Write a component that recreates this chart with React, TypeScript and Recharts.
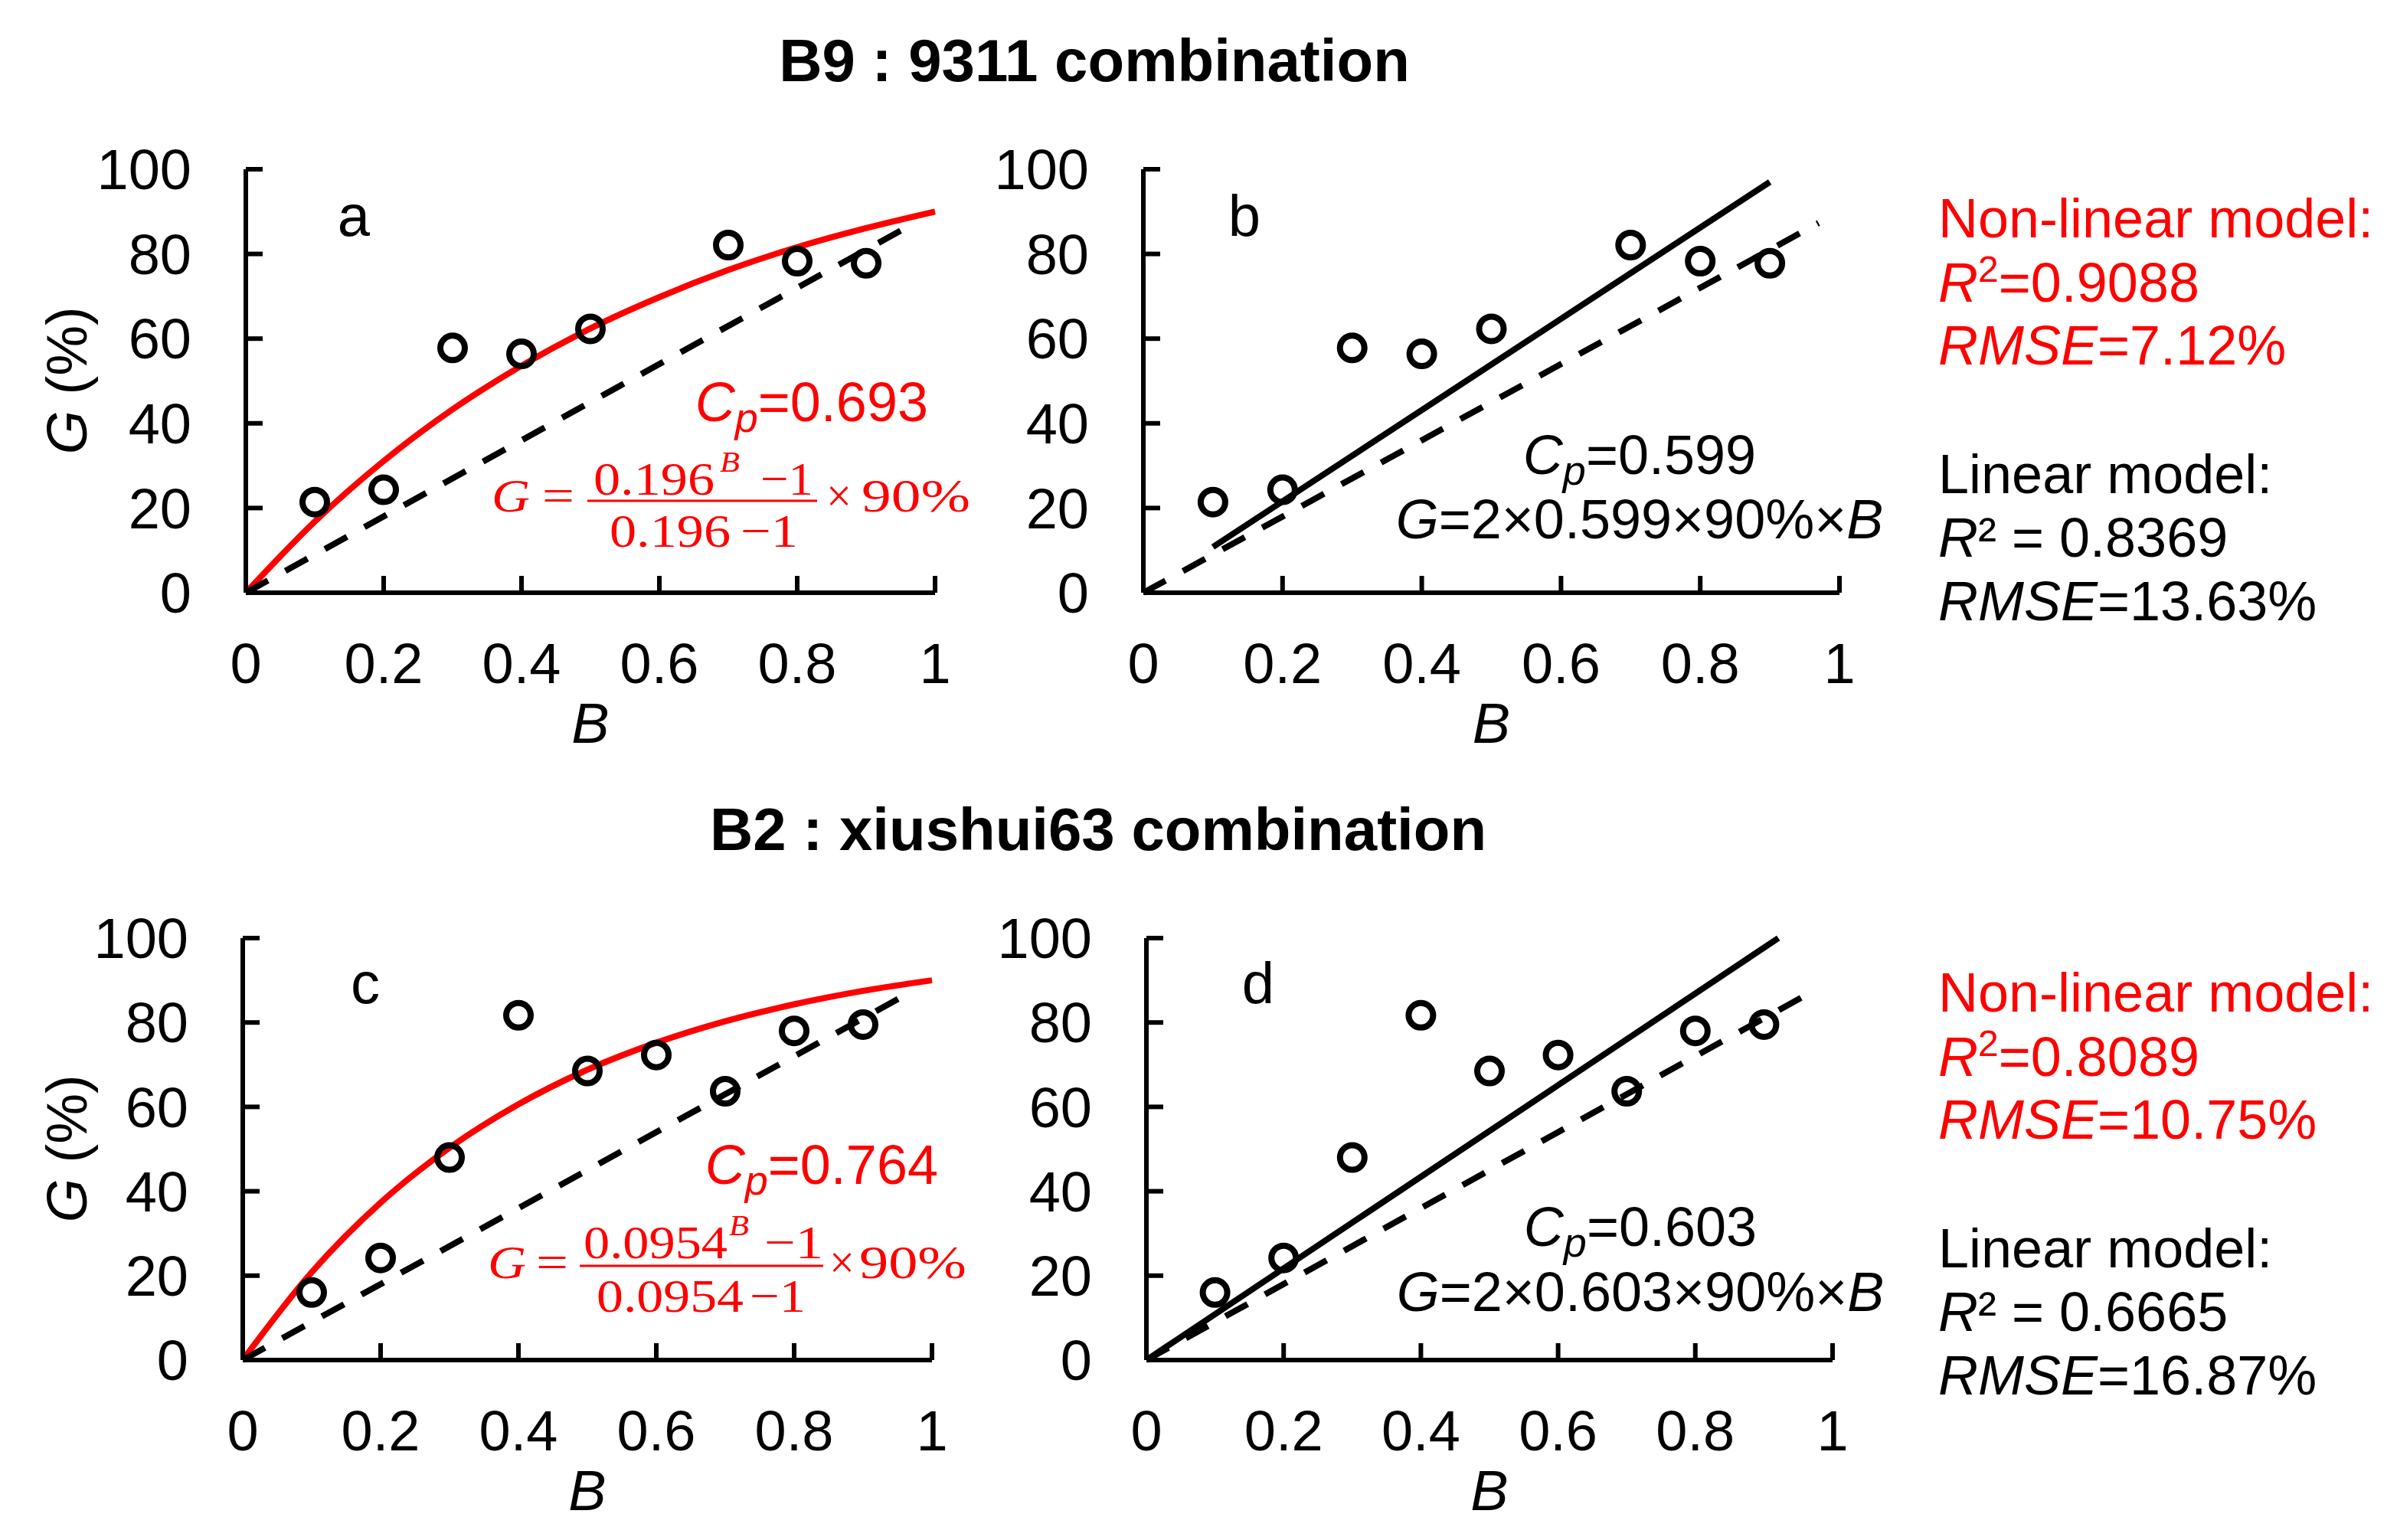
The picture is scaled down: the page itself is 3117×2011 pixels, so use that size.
import React from "react";
import { ComposedChart, Line, Scatter, XAxis, YAxis } from "recharts";

const SANS = '"Liberation Sans", Arial, sans-serif';
const SERIF = '"Liberation Serif", "Times New Roman", serif';
const RED = "#ff0000";

const OBS_B_TOP = [0.1, 0.2, 0.3, 0.4, 0.5, 0.7, 0.8, 0.9];
const OBS_G_TOP = [21.4, 24.3, 57.8, 56.4, 62.3, 82.1, 78.3, 77.8];
const OBS_B_BOTTOM = [0.1, 0.2, 0.3, 0.4, 0.5, 0.6, 0.7, 0.8, 0.9];
const OBS_G_BOTTOM = [16.0, 24.2, 48.0, 81.7, 68.5, 72.3, 63.7, 78.0, 79.5];

// non-linear model curves (red)
const CURVE_B = [0, 0.1, 0.2, 0.3, 0.4, 0.5, 0.6, 0.7, 0.8, 0.9, 1];
const CURVE_G_A = [0, 16.8, 31.1, 43.3, 53.6, 62.4, 69.8, 76.2, 81.6, 86.1, 90];
const CURVE_G_C = [0, 20.8, 37.3, 50.3, 60.6, 68.8, 75.2, 80.3, 84.3, 87.5, 90];

// dashed reference line
const REF_B = [0, 0.97];
const REF_G = [0, 87.3];

// linear model lines (black)
const FIT_B_B = [0.1, 0.9];
const FIT_G_B = [10.8, 97.0];
const FIT_B_D = [0, 0.921];
const FIT_G_D = [0, 100];

const X_TICKS = [0, 0.2, 0.4, 0.6, 0.8, 1];
const Y_TICKS = [0, 20, 40, 60, 80, 100];

type Pt = { b: number; g: number };
const zip = (bs: number[], gs: number[]): Pt[] =>
  bs.map((b, i) => ({ b, g: gs[i] }));

const Y_W = 200;
const X_H = 200;
const M_TOP = 60;
const M_RIGHT = 60;
const TICK_LEN = 22;
const X_GAP = 65;
const Y_GAP = 71;
const AXIS_W = 6;
const LINE_W = 8;

function XTick({ x, y, payload }: any) {
  const ay = y - X_GAP;
  return (
    <g>
      {payload.value !== 0 ? (
        <line x1={x} x2={x} y1={ay} y2={ay - TICK_LEN} stroke="#000" strokeWidth={AXIS_W} />
      ) : null}
      <text x={x} y={y} dy="0.71em" textAnchor="middle" fontFamily={SANS} fontSize={74} fill="#000">
        {payload.value}
      </text>
    </g>
  );
}

function YTick({ x, y, payload }: any) {
  const ax = x + Y_GAP;
  return (
    <g>
      {payload.value !== 0 ? (
        <line x1={ax} x2={ax + TICK_LEN} y1={y} y2={y} stroke="#000" strokeWidth={AXIS_W} />
      ) : null}
      <text x={x} y={y} dy="0.355em" textAnchor="end" fontFamily={SANS} fontSize={74} fill="#000">
        {payload.value}
      </text>
    </g>
  );
}

const Ring = (p: any) => (
  <circle cx={p.cx} cy={p.cy} r={16} fill="none" stroke="#000" strokeWidth={8} />
);

type PanelDef = {
  plot: { x: number; y: number; w: number; h: number };
  curve?: Pt[];
  fit?: Pt[];
  obs: Pt[];
};

const PANELS: PanelDef[] = [
  { plot: { x: 321, y: 221, w: 900, h: 553 }, curve: zip(CURVE_B, CURVE_G_A), obs: zip(OBS_B_TOP, OBS_G_TOP) },
  { plot: { x: 1493, y: 221, w: 909, h: 553 }, fit: zip(FIT_B_B, FIT_G_B), obs: zip(OBS_B_TOP, OBS_G_TOP) },
  { plot: { x: 317, y: 1225, w: 900, h: 551 }, curve: zip(CURVE_B, CURVE_G_C), obs: zip(OBS_B_BOTTOM, OBS_G_BOTTOM) },
  { plot: { x: 1497, y: 1225, w: 896, h: 551 }, fit: zip(FIT_B_D, FIT_G_D), obs: zip(OBS_B_BOTTOM, OBS_G_BOTTOM) },
];

function Panel({ def }: { def: PanelDef }) {
  const { x, y, w, h } = def.plot;
  return (
    <div style={{ position: "absolute", left: x - Y_W, top: y - M_TOP }}>
      <ComposedChart
        width={w + Y_W + M_RIGHT}
        height={h + M_TOP + X_H}
        margin={{ top: M_TOP, right: M_RIGHT, left: 0, bottom: 0 }}
      >
        <XAxis
          type="number"
          dataKey="b"
          domain={[0, 1]}
          ticks={X_TICKS}
          interval={0}
          height={X_H}
          axisLine={{ stroke: "#000", strokeWidth: AXIS_W }}
          tickLine={false}
          tickSize={0}
          tickMargin={X_GAP}
          tick={<XTick />}
        />
        <YAxis
          type="number"
          dataKey="g"
          domain={[0, 100]}
          ticks={Y_TICKS}
          interval={0}
          width={Y_W}
          axisLine={{ stroke: "#000", strokeWidth: AXIS_W }}
          tickLine={false}
          tickSize={0}
          tickMargin={Y_GAP}
          tick={<YTick />}
        />
        {def.curve ? (
          <Line data={def.curve} dataKey="g" type="monotone" stroke={RED} strokeWidth={LINE_W} dot={false} isAnimationActive={false} />
        ) : null}
        {def.fit ? (
          <Line data={def.fit} dataKey="g" type="linear" stroke="#000" strokeWidth={LINE_W} dot={false} isAnimationActive={false} />
        ) : null}
        <Line
          data={zip(REF_B, REF_G)}
          dataKey="g"
          type="linear"
          stroke="#000"
          strokeWidth={LINE_W}
          strokeDasharray="33 26"
          dot={false}
          isAnimationActive={false}
        />
        <Scatter data={def.obs} dataKey="g" shape={Ring} isAnimationActive={false} />
      </ComposedChart>
    </div>
  );
}

// stretched serif piece of an equation
function Eq({ t, x, y, w, size = 62, italic = false }: any) {
  return (
    <text
      x={x}
      y={y}
      textLength={w}
      lengthAdjust="spacingAndGlyphs"
      fontFamily={SERIF}
      fontSize={size}
      fontStyle={italic ? "italic" : "normal"}
      fill={RED}
    >
      {t}
    </text>
  );
}

function Cp({ x, y, value, color, anchor }: any) {
  return (
    <text x={x} y={y} textAnchor={anchor} fontFamily={SANS} fontSize={72} fill={color}>
      <tspan fontStyle="italic">C</tspan>
      <tspan fontStyle="italic" fontSize={54} dy={14}>p</tspan>
      <tspan dy={-14}>={value}</tspan>
    </text>
  );
}

function LinearEq({ x, y, value }: any) {
  return (
    <text x={x} y={y} textAnchor="middle" fontFamily={SANS} fontSize={72} fill="#000">
      <tspan fontStyle="italic">G</tspan>
      <tspan>=2×{value}×90%×</tspan>
      <tspan fontStyle="italic">B</tspan>
    </text>
  );
}

function Stats({ y0, r2n, rmsen, r2l, rmsel }: any) {
  const x = 2531;
  return (
    <g fontFamily={SANS} fontSize={72}>
      <text x={x} y={y0} fill={RED}>Non-linear model:</text>
      <text x={x} y={y0 + 84} fill={RED}>
        <tspan fontStyle="italic">R</tspan>
        <tspan fontSize={48} dy={-26}>2</tspan>
        <tspan dy={26}>={r2n}</tspan>
      </text>
      <text x={x} y={y0 + 166} fill={RED}>
        <tspan fontStyle="italic">RMSE</tspan>
        <tspan>={rmsen}</tspan>
      </text>
      <text x={x} y={y0 + 334} fill="#000">Linear model:</text>
      <text x={x} y={y0 + 417} fill="#000">
        <tspan fontStyle="italic">R</tspan>
        <tspan>² = {r2l}</tspan>
      </text>
      <text x={x} y={y0 + 500} fill="#000">
        <tspan fontStyle="italic">RMSE</tspan>
        <tspan>={rmsel}</tspan>
      </text>
    </g>
  );
}

function XTitle({ plot }: any) {
  const cx = plot.x + plot.w / 2;
  return (
    <text x={cx} y={plot.y + plot.h + 196} textAnchor="middle" fontFamily={SANS} fontSize={74} fontStyle="italic">
      B
    </text>
  );
}

function YTitle({ cy }: { cy: number }) {
  return (
    <text
      transform={`translate(87, ${cy}) rotate(-90)`}
      textAnchor="middle"
      dy="0.35em"
      fontFamily={SANS}
      fontSize={74}
    >
      <tspan fontStyle="italic">G</tspan>
      <tspan> (%)</tspan>
    </text>
  );
}

function Overlay() {
  return (
    <svg
      width={3117}
      height={2011}
      style={{ position: "absolute", left: 0, top: 0, pointerEvents: "none" }}
    >
      <g fontFamily={SANS} fontWeight="bold" fontSize={78} textAnchor="middle">
        <text x={1429} y={106}>B9 : 9311 combination</text>
        <text x={1434} y={1110}>B2 : xiushui63 combination</text>
      </g>

      <g fontFamily={SANS} fontSize={76} textAnchor="middle">
        <text x={462} y={308}>a</text>
        <text x={1625} y={308}>b</text>
        <text x={477} y={1310}>c</text>
        <text x={1643} y={1310}>d</text>
      </g>

      {PANELS.map((p, i) => (
        <XTitle key={i} plot={p.plot} />
      ))}
      <YTitle cy={497} />
      <YTitle cy={1500} />

      {/* panel a */}
      <Cp x={1212} y={550} value="0.693" color={RED} anchor="end" />
      <Eq t="G" x={642} y={668} w={50} italic />
      <Eq t="=" x={708} y={668} w={42} />
      <Eq t="0.196" x={775} y={646} w={158} />
      <Eq t="B" x={940} y={616} w={26} size={38} italic />
      <Eq t="−1" x={993} y={646} w={69} />
      <line x1={767} x2={1067} y1={654} y2={654} stroke={RED} strokeWidth={3} />
      <Eq t="0.196" x={796} y={714} w={158} />
      <Eq t="−1" x={967} y={714} w={75} />
      <Eq t="×" x={1079} y={668} w={33} />
      <Eq t="90%" x={1125} y={668} w={142} />

      {/* panel b */}
      <Cp x={2141} y={619} value="0.599" color="#000" anchor="middle" />
      <LinearEq x={2141} y={703} value="0.599" />

      {/* panel c */}
      <Cp x={1225} y={1546} value="0.764" color={RED} anchor="end" />
      <Eq t="G" x={637} y={1669} w={50} italic />
      <Eq t="=" x={700} y={1669} w={42} />
      <Eq t="0.0954" x={762} y={1643} w={188} />
      <Eq t="B" x={952} y={1613} w={26} size={38} italic />
      <Eq t="−1" x={998} y={1643} w={77} />
      <line x1={757} x2={1075} y1={1653} y2={1653} stroke={RED} strokeWidth={3} />
      <Eq t="0.0954" x={779} y={1713} w={192} />
      <Eq t="−1" x={979} y={1713} w={73} />
      <Eq t="×" x={1083} y={1669} w={33} />
      <Eq t="90%" x={1122} y={1669} w={140} />

      {/* panel d */}
      <Cp x={2142} y={1627} value="0.603" color="#000" anchor="middle" />
      <LinearEq x={2142} y={1712} value="0.603" />

      <Stats y0={310} r2n="0.9088" rmsen="7.12%" r2l="0.8369" rmsel="13.63%" />
      <Stats y0={1321} r2n="0.8089" rmsen="10.75%" r2l="0.6665" rmsel="16.87%" />
    </svg>
  );
}

export default function App() {
  return (
    <div
      style={{
        position: "absolute",
        left: 0,
        top: 0,
        width: 3117,
        height: 2011,
        background: "#fff",
        overflow: "hidden",
      }}
    >
      {PANELS.map((p, i) => (
        <Panel key={i} def={p} />
      ))}
      <Overlay />
    </div>
  );
}
